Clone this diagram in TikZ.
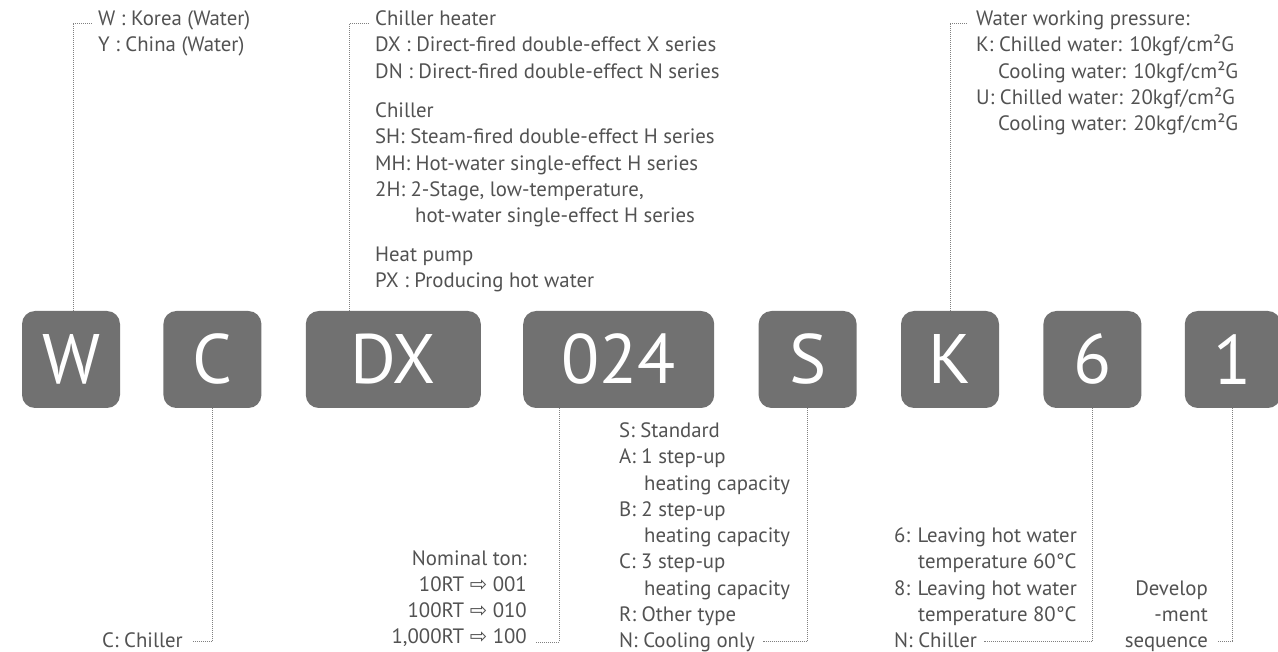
\documentclass[tikz,border=0pt]{standalone}
\usepackage{fontspec}
\setmainfont{PT Sans}
\newfontfamily\arrowfont{DejaVu Sans}
\usetikzlibrary{positioning}
\definecolor{boxgray}{HTML}{717171}
\definecolor{labelgray}{HTML}{525252}
\definecolor{leadgray}{HTML}{808080}
\begin{document}
\begin{tikzpicture}[x=1pt, y=-1pt,
  code/.style={fill=boxgray, rounded corners=13pt, text=white, inner sep=0pt, minimum width=98pt, minimum height=97pt, font=\fontsize{70}{70}\selectfont},
  lab/.style={text=labelgray, inner sep=0pt, font=\fontsize{20.8}{26.3}\selectfont, execute at begin node=\strut, execute at end node=\strut},
  leader/.style={draw=leadgray, line width=1pt, dash pattern=on 1pt off 1pt}]
\useasboundingbox (0,0) rectangle (1278,652);
\node[code] (w) at (71,359.5) {W};
\node[code, right=43pt of w] (c) {C};
\node[code, right=44pt of c, minimum width=175pt] (dx) {DX};
\node[code, right=42pt of dx, minimum width=191pt] (num) {024};
\node[code, right=44pt of num] (s) {S};
\node[code, right=44pt of s] (k) {K};
\node[code, right=44pt of k] (six) {6};
\node[code, right=43pt of six, minimum width=96pt] (one) {1};

\node[lab, align=left, anchor=north west] (wlab) at (98,10.6) {W : Korea (Water)\\Y : China (Water)};
\node[lab, align=left, anchor=north west] (dxlab) at (375,10.6) {Chiller heater\\DX : Direct-fired double-effect X series\\DN : Direct-fired double-effect N series\\[13pt]Chiller\\SH: Steam-fired double-effect H series\\MH: Hot-water single-effect H series\\2H: 2-Stage, low-temperature,\\\hspace*{40pt}hot-water single-effect H series\\[12pt]Heat pump\\PX : Producing hot water};
\node[lab, align=left, anchor=north west] (klab) at (976,10.6) {Water working pressure:\\K: Chilled water: 10kgf/cm²G\\\hspace*{22pt}Cooling water: 10kgf/cm²G\\U: Chilled water: 20kgf/cm²G\\\hspace*{22pt}Cooling water: 20kgf/cm²G};

\node[lab, align=right, anchor=south east] (clab) at (183,655.9) {C: Chiller};
\node[lab, align=right, anchor=south east] (tonlab) at (527,652) {Nominal ton:\\10RT {\arrowfont ⇨} 001\\100RT {\arrowfont ⇨} 010\\1,000RT {\arrowfont ⇨} 100};
\node[lab, align=left, anchor=south west] (slab) at (619,655.9) {S: Standard\\A: 1 step-up\\\hspace*{25pt}heating capacity\\B: 2 step-up\\\hspace*{25pt}heating capacity\\C: 3 step-up\\\hspace*{25pt}heating capacity\\R: Other type\\N: Cooling only};
\node[lab, align=left, anchor=south west] (hwlab) at (894,655.9) {6: Leaving hot water\\\hspace*{24pt}temperature 60°C\\8: Leaving hot water\\\hspace*{24pt}temperature 80°C\\N: Chiller};
\node[lab, align=right, anchor=south east] (seqlab) at (1208,655.9) {Develop\\-ment\\sequence};

\draw[leader] ([xshift=2pt]w.north) |- ([xshift=-5pt,yshift=-12.5pt]wlab.north west);
\draw[leader] ([xshift=44pt]dx.north west) |- ([xshift=-7pt,yshift=-12.5pt]dxlab.north west);
\draw[leader] (k.north) |- ([xshift=-8pt,yshift=-12.5pt]klab.north west);
\draw[leader] (c.south) |- ([xshift=10pt,yshift=14pt]clab.south east);
\draw[leader] ([xshift=36pt]num.south west) |- ([xshift=8pt,yshift=10pt]tonlab.south east);
\draw[leader] (s.south) |- ([xshift=144pt,yshift=14pt]slab.south west);
\draw[leader] (six.south) |- ([xshift=90pt,yshift=14pt]hwlab.south west);
\draw[leader] (one.south) |- ([xshift=10pt,yshift=14pt]seqlab.south east);
\end{tikzpicture}
\end{document}
